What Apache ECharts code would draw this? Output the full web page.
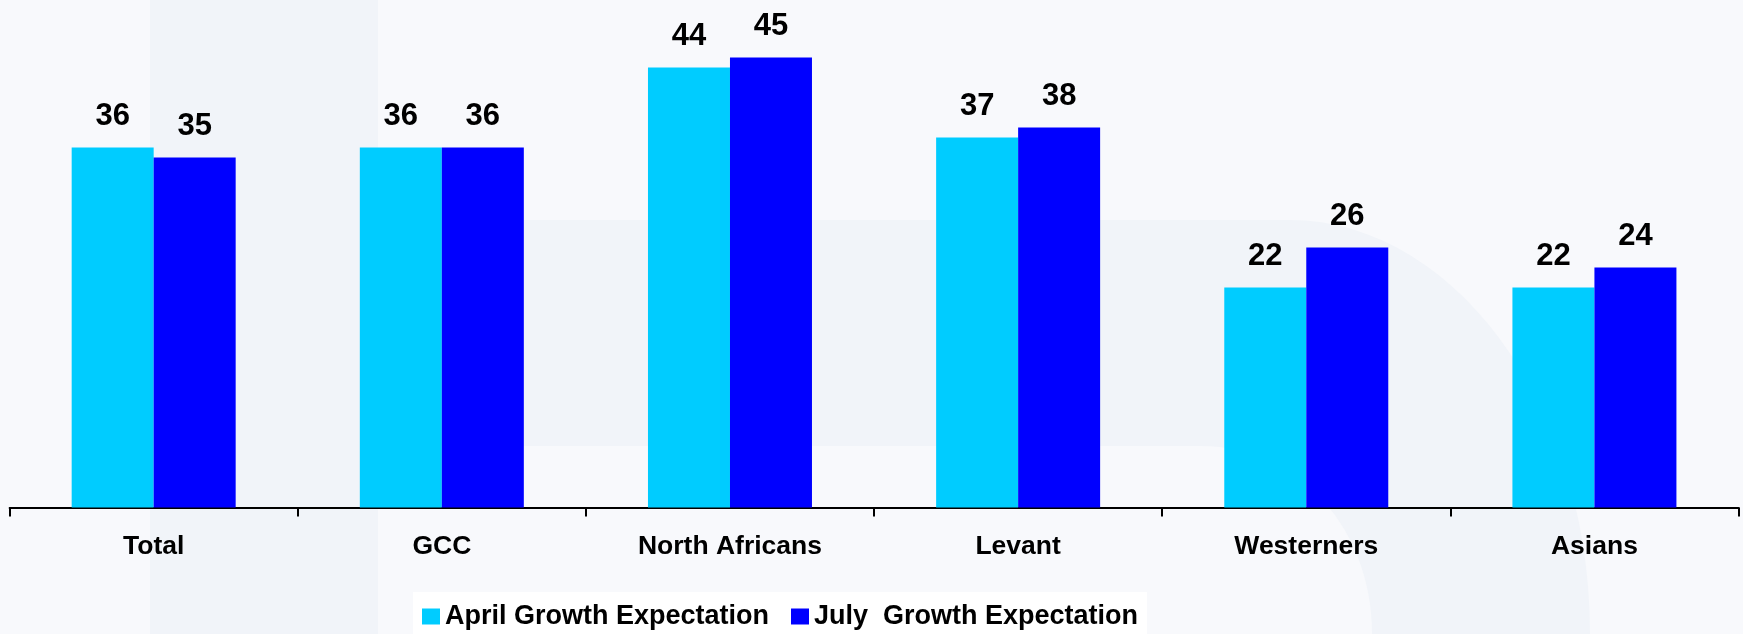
<!DOCTYPE html>
<html>
<head>
<meta charset="utf-8">
<script src="https://cdn.jsdelivr.net/npm/echarts@6/dist/echarts.min.js"></script>
<style>
html,body{margin:0;padding:0;background:#f8f9fc;}
#chart{width:1743px;height:634px;}
</style>
</head>
<body>
<div id="chart"></div>
<script>
const categories = ['Total', 'GCC', 'North Africans', 'Levant', 'Westerners', 'Asians'];
const aprilValues = [36, 36, 44, 37, 22, 22];
const julyValues = [35, 36, 45, 38, 26, 24];
const seriesNames = ['April Growth Expectation', 'July  Growth Expectation'];

const FONT = '"Liberation Sans", Arial, sans-serif';

// decorative background watermark shape (not data)
function bez(p0, p1, p2, p3, n) {
  const pts = [];
  for (let i = 0; i <= n; i++) {
    const t = i / n, u = 1 - t;
    pts.push([
      u*u*u*p0[0] + 3*u*u*t*p1[0] + 3*u*t*t*p2[0] + t*t*t*p3[0],
      u*u*u*p0[1] + 3*u*u*t*p1[1] + 3*u*t*t*p2[1] + t*t*t*p3[1]
    ]);
  }
  return pts;
}
const bandPts = [[378, 220]]
  .concat(bez([1290, 220], [1450, 220], [1590, 400], [1590, 634], 30))
  .concat(bez([1372, 634], [1372, 530], [1300, 446], [1200, 446], 30))
  .concat([[378, 446]]);

const chart = echarts.init(document.getElementById('chart'));

chart.setOption({
  backgroundColor: '#f8f9fc',
  animation: false,
  graphic: [
    { type: 'rect', z: 0, silent: true, shape: { x: 150, y: 0, width: 228, height: 634 }, style: { fill: '#f1f4f9' } },
    { type: 'polygon', z: 0, silent: true, shape: { points: bandPts }, style: { fill: '#f1f4f9' } }
  ],
  grid: { left: 9.6, right: 4.5, top: 7.5, bottom: 126.5, containLabel: false },
  legend: {
    left: 413,
    top: 592,
    padding: [11, 9, 20, 9],
    backgroundColor: '#ffffff',
    itemWidth: 18,
    itemHeight: 16,
    itemGap: 22,
    icon: 'rect',
    textStyle: { fontFamily: FONT, fontSize: 27, fontWeight: 'bold', color: '#000' },
    data: seriesNames
  },
  xAxis: {
    type: 'category',
    data: categories,
    axisLine: { lineStyle: { color: '#000', width: 2 } },
    axisTick: { show: true, alignWithLabel: false, length: 9, lineStyle: { color: '#000', width: 2 } },
    axisLabel: { margin: 26, fontFamily: FONT, fontSize: 26.5, fontWeight: 'bold', color: '#000', interval: 0 }
  },
  yAxis: { type: 'value', min: 0, max: 50, show: false, splitLine: { show: false } },
  series: [
    {
      name: seriesNames[0], type: 'bar', data: aprilValues,
      barWidth: 82, barGap: '0%',
      itemStyle: { color: '#00ccff' },
      label: { show: true, position: 'top', distance: 16, fontFamily: FONT, fontSize: 31, fontWeight: 'bold', color: '#000' }
    },
    {
      name: seriesNames[1], type: 'bar', data: julyValues,
      barWidth: 82, barGap: '0%',
      itemStyle: { color: '#0000ff' },
      label: { show: true, position: 'top', distance: 16, fontFamily: FONT, fontSize: 31, fontWeight: 'bold', color: '#000' }
    }
  ]
});
</script>
</body>
</html>
